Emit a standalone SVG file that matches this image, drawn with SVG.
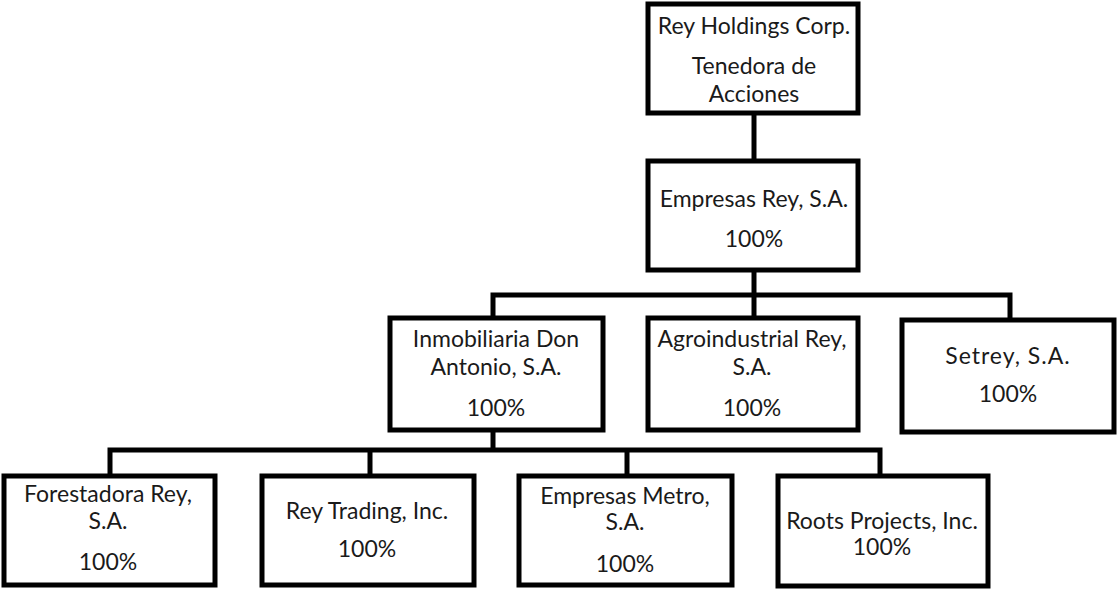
<svg xmlns="http://www.w3.org/2000/svg" width="1117" height="590" viewBox="0 0 1117 590">
<style>
.box{fill:#fff;stroke:#000;stroke-width:5}
.ln{fill:none;stroke:#000;stroke-width:5}
text{font-family:Lato,"Liberation Sans",sans-serif;font-size:23px;fill:#1a1a1a;text-anchor:middle}
</style>
<rect width="1117" height="590" fill="#fff"/>
<g id="connectors">
<path class="ln" d="M754 113V160"/>
<path class="ln" d="M754 270V295M493 318V295H1010V320M754 295V318"/>
<path class="ln" d="M493 430V450M110 476V450H880V476M370 450V476M627 450V476"/>
</g>
<g id="rey-holdings"><rect class="box" x="648" y="4" width="210" height="109"/>
<text x="754" y="34">Rey Holdings Corp.</text><text x="754" y="74">Tenedora de</text><text x="754" y="102">Acciones</text></g>
<g id="empresas-rey"><rect class="box" x="648" y="161" width="210" height="109"/>
<text x="754" y="207">Empresas Rey, S.A.</text><text x="754" y="247">100%</text></g>
<g id="inmobiliaria"><rect class="box" x="390" y="318" width="213" height="112"/>
<text x="496" y="347">Inmobiliaria Don</text><text x="496" y="375">Antonio, S.A.</text><text x="496" y="416">100%</text></g>
<g id="agroindustrial"><rect class="box" x="648" y="318" width="210" height="112"/>
<text x="752" y="347">Agroindustrial Rey,</text><text x="752" y="375">S.A.</text><text x="752" y="416">100%</text></g>
<g id="setrey"><rect class="box" x="902" y="320" width="212" height="112"/>
<text x="1008" y="364" letter-spacing="1">Setrey, S.A.</text><text x="1008" y="402">100%</text></g>
<g id="forestadora"><rect class="box" x="4" y="476" width="211" height="109"/>
<text x="108" y="502">Forestadora Rey,</text><text x="108" y="529">S.A.</text><text x="108" y="570">100%</text></g>
<g id="rey-trading"><rect class="box" x="262" y="476" width="212" height="109"/>
<text x="367" y="519">Rey Trading, Inc.</text><text x="367" y="557">100%</text></g>
<g id="empresas-metro"><rect class="box" x="519" y="476" width="213" height="109"/>
<text x="625" y="504">Empresas Metro,</text><text x="625" y="530">S.A.</text><text x="625" y="572">100%</text></g>
<g id="roots"><rect class="box" x="778" y="476" width="210" height="110"/>
<text x="882" y="529">Roots Projects, Inc.</text><text x="882" y="555">100%</text></g>
</svg>
